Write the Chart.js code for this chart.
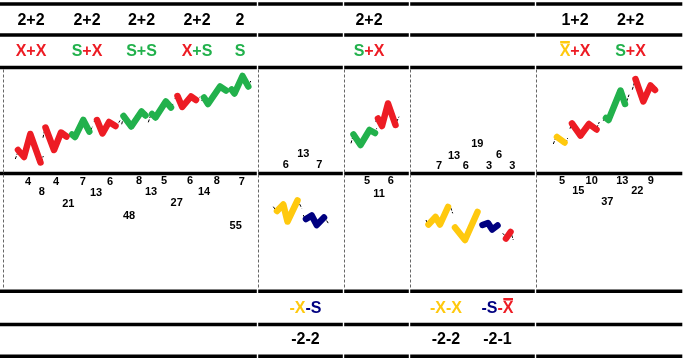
<!DOCTYPE html>
<html>
<head>
<meta charset="utf-8">
<script src="https://cdn.jsdelivr.net/npm/chart.js@4.4.0/dist/chart.umd.min.js"></script>
<style>
html, body { margin: 0; padding: 0; background: #fff; }
#wrap { width: 690px; height: 362px; }
</style>
</head>
<body>
<div id="wrap"><canvas id="waves" width="690" height="362"></canvas></div>
<script>
// wave points are [time, level]; level grows downward like the table rows
const redA1   = [[18, 150], [24, 157], [30.3, 134], [40.5, 162.5]];
const redA2   = [[45.5, 127.5], [54, 150], [61, 132.5], [66.5, 136.5]];
const greenB1 = [[72, 134.5], [75, 137], [83.3, 120], [89.3, 131.5]];
const redB2   = [[97, 120], [102.5, 133.5], [109, 122], [115.5, 126]];
const greenC1 = [[123.5, 116], [131.3, 126.5], [141.5, 111.5], [145.5, 115.5]];
const greenC2 = [[152, 114], [155.5, 117.5], [165.8, 101.5], [171, 107.5]];
const redD1   = [[177.5, 96], [182.2, 107], [191, 96.5], [196, 100]];
const greenD2 = [[204, 97.5], [208, 104], [220, 86.5], [226, 90.5]];
const greenE  = [[231.5, 89.5], [234.5, 93.5], [242.5, 76], [248.3, 86.5]];

const greenF  = [[353.5, 134.5], [360.5, 145], [369.5, 130], [375, 133]];
const redF    = [[378, 118.5], [382, 126], [388, 103.5], [395.5, 125]];

const yellowH = [[557, 137], [564.5, 142.5]];
const redH1   = [[572, 123.5], [580.5, 135.5], [589, 124], [596.5, 129.5]];
const greenH  = [[606, 118], [608.5, 120], [620.5, 90.5], [625, 104]];
const redH2   = [[635.5, 79], [643.3, 101.5], [650.5, 85.5], [655, 90]];

const yellowL1 = [[277, 211], [283.3, 204.5], [287.5, 221.5], [297.5, 200.5]];
const navyL1   = [[306, 219], [311.7, 215.5], [316.7, 225], [324, 217.5]];
const yellowL2 = [[428.5, 224.5], [435.5, 217], [440, 224.5], [448, 207]];
const yellowL3 = [[455, 227.5], [465, 240], [477.5, 212]];
const navyL2   = [[482.5, 225], [488, 223], [492.2, 229.5], [497.5, 225.5]];
const redL     = [[506, 238.5], [510.5, 232]];

// thin continuation ticks: [t1, level1, t2, level2]
const ticks = [
  [15.3, 159, 18.3, 151], [41.3, 161.7, 43.3, 156], [43, 137.7, 45.3, 127],
  [66.5, 138, 70, 133], [90.7, 130.3, 92.7, 126], [94, 122, 96.3, 118.5],
  [116.5, 126.5, 120, 120.5], [121.7, 124.3, 124, 115], [145, 115, 146.7, 111.7],
  [148.3, 122.3, 151.7, 112.3], [171.7, 106.7, 173.3, 103], [175, 99, 177, 94],
  [196.7, 101, 200, 96.7], [201.7, 101, 205, 95.7], [226, 91.7, 227.3, 89],
  [228.3, 92.3, 231.7, 88.3], [248.3, 86.7, 250.7, 81],
  [351, 143.3, 353.3, 135], [374.3, 133.3, 376.7, 128.3], [375.7, 121.7, 377.7, 116.7],
  [396.7, 121.7, 399, 116.7],
  [553.3, 144, 555.7, 138], [565.7, 143, 567.7, 138], [570, 128.7, 571.7, 123],
  [596.7, 128, 599.3, 122], [603.3, 120.7, 605.7, 116.3], [626.7, 101.3, 629, 94.7],
  [632.3, 89.7, 634.3, 83], [654.3, 89.7, 656.7, 87.3],
  [273.3, 206.7, 276.7, 211.7], [297.7, 200, 301.7, 208.3], [303.3, 215, 305.7, 220],
  [324.3, 216.7, 328.3, 223.3],
  [426, 220, 428.3, 225.7], [450.7, 207.7, 452.7, 213.3], [480, 224.3, 482.7, 225.7],
  [502.7, 233.3, 505, 235.7], [511.7, 235, 513.3, 240]
];

// wave counts
const countLabels = ['4', '8', '4', '21', '7', '13', '6', '48', '8', '13', '5', '27', '6', '14', '8', '7', '55',
  '6', '13', '7', '5', '6', '11', '7', '13', '6', '19', '3', '6', '3', '5', '15', '10', '37', '13', '22', '9'];
const countTime = [28, 41.7, 56, 68.3, 82.7, 96, 110, 129, 139, 151, 164, 176.7, 190, 204, 216.7, 241.7, 235.7,
  285.7, 303.3, 319.3, 367, 390.7, 379, 439, 454, 465.7, 477.3, 489, 499, 512.3, 562, 578.3, 591.7, 607.3, 622.3, 637.3, 650.7];
const countLevel = [182.3, 192.3, 182.3, 204, 182.3, 193, 182.3, 216, 181, 192, 181, 203, 181, 192, 181, 182.3, 226,
  165, 154, 165, 181, 181, 194, 165.7, 156, 165.7, 144, 165.7, 155, 165.7, 181, 191.3, 181, 202, 181, 191.3, 181];

// header rows
const headerTime = [31, 87, 141.5, 197, 240, 369, 575, 630.5];
const headerSize = ['2+2', '2+2', '2+2', '2+2', '2', '2+2', '1+2', '2+2'];
const headerCode = ['X+X', 'S+X', 'S+S', 'X+S', 'S', 'S+X', 'X\u0304+X', 'S+X'];
const footerTime = [305.5, 446, 497.5];
const footerCode = ['-X-S', '-X-X', '-S-X\u0304'];
const footerSize = ['-2-2', '-2-2', '-2-1'];

const RED = '#ed1c24', GREEN = '#22b14c', YELLOW = '#ffc90e', NAVY = '#000080';
const topPalette = { X: RED, S: GREEN, 'X\u0304': YELLOW };
const bottomPalette = { X: YELLOW, S: NAVY, 'X\u0304': RED };

const rowLevels = [4, 35, 67.5, 173.5, 291.3, 324.5, 356.3];
const columnEdges = [0, 257.5, 343.5, 409.5, 535.5, 683];
const dashedCols = [2.5, 258, 343.5, 409.5, 535.5];

const waveList = [
  [redA1, RED], [redA2, RED], [greenB1, GREEN], [redB2, RED], [greenC1, GREEN], [greenC2, GREEN],
  [redD1, RED], [greenD2, GREEN], [greenE, GREEN], [greenF, GREEN], [redF, RED],
  [yellowH, YELLOW], [redH1, RED], [greenH, GREEN], [redH2, RED],
  [yellowL1, YELLOW], [navyL1, NAVY], [yellowL2, YELLOW], [yellowL3, YELLOW], [navyL2, NAVY], [redL, RED]
];

const datasets = [];
waveList.forEach(function (w) {
  datasets.push({
    data: w[0].map(function (p) { return { x: p[0], y: p[1] }; }),
    borderColor: w[1],
    borderWidth: 6.5,
    borderJoinStyle: 'round',
    borderCapStyle: 'round',
    pointRadius: 0,
    tension: 0,
    fill: false
  });
});
ticks.forEach(function (t) {
  datasets.push({
    data: [{ x: t[0], y: t[1] }, { x: t[2], y: t[3] }],
    borderColor: '#000',
    borderWidth: 1,
    borderDash: [3, 1.5],
    pointRadius: 0,
    fill: false
  });
});

function drawCode(ctx, str, cx, cy, palette) {
  const pieces = [];
  let i = 0;
  while (i < str.length) {
    let sign = '';
    if (str[i] === '+' || str[i] === '-') { sign = str[i]; i++; }
    let letter = str[i]; i++;
    let bar = false;
    if (str[i] === '\u0304') { bar = true; i++; }
    pieces.push({ sign: sign, letter: letter, bar: bar, color: palette[bar ? letter + '\u0304' : letter] });
  }
  let total = 0;
  pieces.forEach(function (p) {
    p.sw = ctx.measureText(p.sign).width;
    p.lw = ctx.measureText(p.letter).width;
    total += p.sw + p.lw;
  });
  let x = cx - total / 2;
  ctx.textAlign = 'left';
  pieces.forEach(function (p) {
    ctx.fillStyle = p.color;
    if (p.sign) ctx.fillText(p.sign, x, cy);
    x += p.sw;
    ctx.fillText(p.letter, x, cy);
    if (p.bar) ctx.fillRect(x + 0.5, cy - 10.5, p.lw - 1, 2.5);
    x += p.lw;
  });
}

const tablePlugin = {
  id: 'table',
  beforeDatasetsDraw: function (chart) {
    const ctx = chart.ctx, xs = chart.scales.x, ys = chart.scales.y;
    ctx.save();
    ctx.strokeStyle = '#000';
    ctx.lineWidth = 3.5;
    rowLevels.forEach(function (lv) {
      const py = ys.getPixelForValue(lv);
      for (let c = 0; c < columnEdges.length - 1; c++) {
        ctx.beginPath();
        ctx.moveTo(xs.getPixelForValue(columnEdges[c]) + (c ? 0.7 : 0), py);
        ctx.lineTo(xs.getPixelForValue(columnEdges[c + 1]) - 0.7, py);
        ctx.stroke();
      }
    });
    ctx.strokeStyle = '#666';
    ctx.lineWidth = 1;
    ctx.setLineDash([3, 2]);
    dashedCols.forEach(function (t) {
      const px = Math.round(xs.getPixelForValue(t)) + 0.5;
      ctx.beginPath();
      ctx.moveTo(px, ys.getPixelForValue(rowLevels[2]) + 2);
      ctx.lineTo(px, ys.getPixelForValue(rowLevels[4]) - 2);
      ctx.stroke();
    });
    ctx.restore();
  },
  afterDatasetsDraw: function (chart) {
    const ctx = chart.ctx, xs = chart.scales.x, ys = chart.scales.y;
    ctx.save();
    ctx.textBaseline = 'middle';
    ctx.font = 'bold 11px "Liberation Sans", Arial, sans-serif';
    ctx.fillStyle = '#000';
    ctx.textAlign = 'center';
    countLabels.forEach(function (s, k) {
      ctx.fillText(s, xs.getPixelForValue(countTime[k]), ys.getPixelForValue(countLevel[k]));
    });
    ctx.font = 'bold 16px "Liberation Sans", Arial, sans-serif';
    headerSize.forEach(function (s, k) {
      ctx.fillStyle = '#000';
      ctx.textAlign = 'center';
      ctx.fillText(s, xs.getPixelForValue(headerTime[k]), ys.getPixelForValue(20.5));
      drawCode(ctx, headerCode[k], xs.getPixelForValue(headerTime[k]), ys.getPixelForValue(51.5), topPalette);
    });
    footerSize.forEach(function (s, k) {
      drawCode(ctx, footerCode[k], xs.getPixelForValue(footerTime[k]), ys.getPixelForValue(308.5), bottomPalette);
      ctx.fillStyle = '#000';
      ctx.textAlign = 'center';
      ctx.fillText(s, xs.getPixelForValue(footerTime[k]), ys.getPixelForValue(339.5));
    });
    ctx.restore();
  }
};

new Chart(document.getElementById('waves'), {
  type: 'line',
  data: { datasets: datasets },
  options: {
    responsive: false,
    animation: false,
    events: [],
    layout: { padding: 0 },
    plugins: { legend: { display: false }, tooltip: { enabled: false } },
    scales: {
      x: { type: 'linear', min: 0, max: 690, display: false },
      y: { type: 'linear', min: 0, max: 362, reverse: true, display: false }
    }
  },
  plugins: [tablePlugin]
});
</script>
</body>
</html>
